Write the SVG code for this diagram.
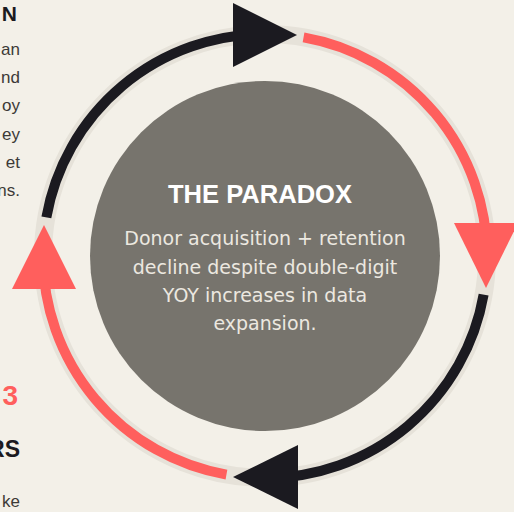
<svg xmlns="http://www.w3.org/2000/svg" width="514" height="512" viewBox="0 0 514 512">
  <style>
    .track { fill: none; stroke: #e6e2d9; stroke-width: 18; }
    .arc { fill: none; stroke-width: 10; stroke-linecap: butt; }
    .red { stroke: #ff5f5d; }
    .dark { stroke: #1b1a20; }
    .head-red { fill: #ff5f5d; }
    .head-dark { fill: #1b1a20; }
    .side { font-family: "Liberation Sans", Arial, sans-serif; fill: #3c3a37; font-size: 17px; text-anchor: end; }
    .side-head { font-family: "Liberation Sans", Arial, sans-serif; font-weight: bold; fill: #1b1a20; text-anchor: end; }
    .title { font-family: "Liberation Sans", Arial, sans-serif; font-weight: bold; font-size: 25.5px; fill: #ffffff; text-anchor: middle; }
    .body { font-family: "DejaVu Sans", "Liberation Sans", sans-serif; font-size: 19px; fill: #ece8e0; text-anchor: middle; }
  </style>

  <rect width="514" height="512" fill="#f3f0e8"/>

  <!-- neighbouring column text, cut at the left edge -->
  <g id="left-column">
    <text class="side-head" x="17" y="21" font-size="21">N</text>
    <text class="side" x="20" y="55">an</text>
    <text class="side" x="20" y="83">nd</text>
    <text class="side" x="20" y="111">oy</text>
    <text class="side" x="20" y="140">ey</text>
    <text class="side" x="20" y="168">et</text>
    <text class="side" x="20" y="196">ns.</text>
    <text class="side-head" x="18" y="405" font-size="28" fill="#ff5f5d" style="fill:#ff5f5d">3</text>
    <text class="side-head" x="20" y="457" font-size="23">RS</text>
    <text class="side" x="20" y="507">ke</text>
  </g>

  <!-- cycle ring: track, four arcs and four arrowheads -->
  <g id="connectors">
    <circle class="track" cx="265" cy="256" r="222"/>
    <path class="arc red" d="M303.55 37.37 A222 222 0 0 1 487 256"/>
    <path class="arc dark" d="M483.63 294.55 A222 222 0 0 1 265 478"/>
    <path class="arc red" d="M226.45 474.63 A222 222 0 0 1 43 256"/>
    <path class="arc dark" d="M46.37 217.45 A222 222 0 0 1 265 34"/>
    <polygon class="head-dark" points="297,35 233,3 233,67"/>
    <polygon class="head-red" points="486,288 454,223 518,223"/>
    <polygon class="head-dark" points="233,477 298,445 298,509"/>
    <polygon class="head-red" points="44,225 12,289 76,289"/>
  </g>

  <g id="paradox">
    <circle cx="265" cy="256" r="175" fill="#77746d"/>
    <text class="title" x="260" y="203" textLength="184" lengthAdjust="spacingAndGlyphs">THE PARADOX</text>
    <text class="body" x="265" y="245">Donor acquisition + retention</text>
    <text class="body" x="265" y="273.5">decline despite double-digit</text>
    <text class="body" x="265" y="302">YOY increases in data</text>
    <text class="body" x="265" y="330">expansion.</text>
  </g>
</svg>
